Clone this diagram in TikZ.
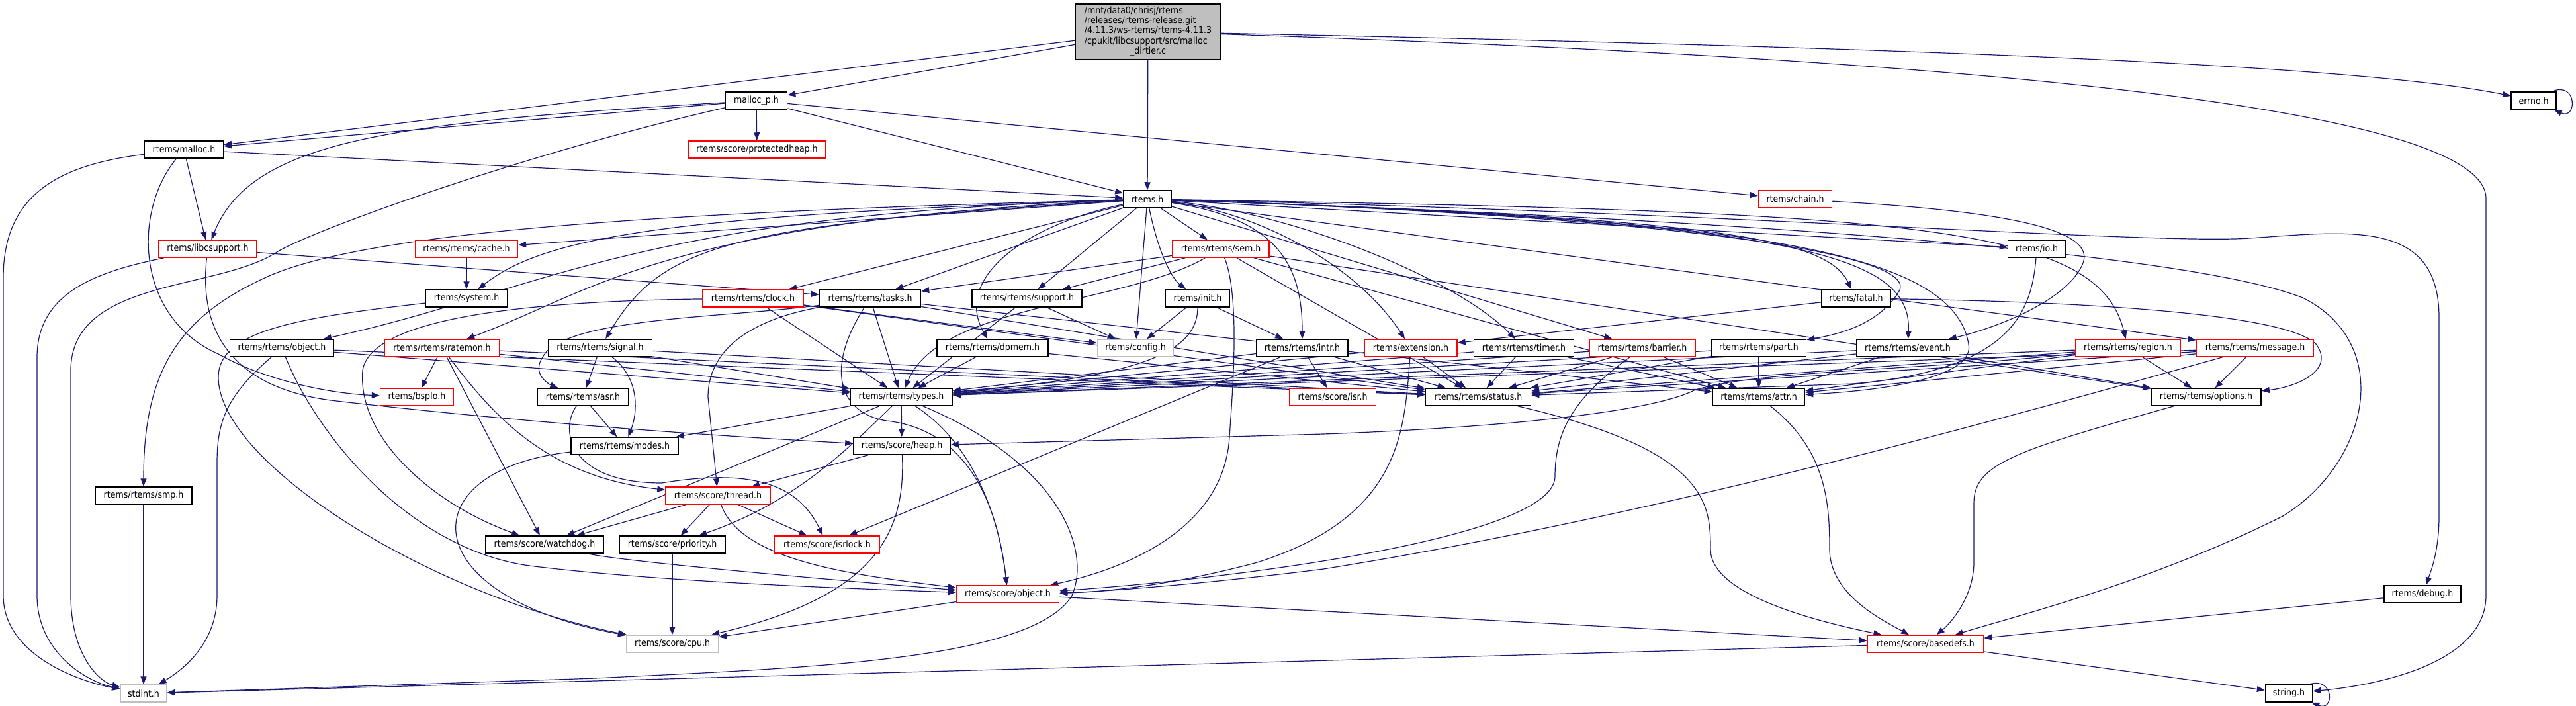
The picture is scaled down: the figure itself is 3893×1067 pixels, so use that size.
\documentclass[tikz,border=0pt]{standalone}
\usepackage{fontspec}
\setmainfont{DejaVu Sans Condensed}
\usetikzlibrary{arrows.meta}
\definecolor{edgeblue}{RGB}{25,25,112}
\definecolor{nodegrey}{RGB}{191,191,191}
\pgfdeclarelayer{bg}
\pgfsetlayers{bg,main}
\begin{document}
\begin{tikzpicture}[x=1pt,y=-1pt,
  fbox/.style={draw=black, line width=1.5pt, fill=white, minimum height=26pt, inner sep=0pt, text=black, font=\fontsize{14}{16}\selectfont},
  rbox/.style={fbox, draw=red},
  gbox/.style={fbox, draw=nodegrey},
  edge/.style={draw=edgeblue, line width=1.2pt, -{Triangle[length=12pt,width=9pt]}}]
\useasboundingbox (0,0) rectangle (3893,1067);
% nodes
\node[fbox, fill=nodegrey, minimum width=219pt, minimum height=84pt, font=\fontsize{14}{15}\selectfont] (main) at (1735,48)
 {\begin{tabular}{@{}l@{}}/mnt/data0/chrisj/rtems\\/releases/rtems-release.git\\/4.11.3/ws-rtems/rtems-4.11.3\\/cpukit/libcsupport/src/malloc\\\multicolumn{1}{@{}c@{}}{\_dirtier.c}\end{tabular}};
\node[fbox, minimum width=93pt] (mallocp) at (1143,152) {malloc\_p.h};
\node[rbox, minimum width=208pt] (prot) at (1144,226) {rtems/score/protectedheap.h};
\node[fbox, minimum width=72pt] (rtems) at (1734,301) {rtems.h};
\node[rbox, minimum width=111pt] (chain) at (2713,301) {rtems/chain.h};
\node[fbox, minimum width=68pt] (errno) at (3829,152) {errno.h};
\node[fbox, minimum width=119pt] (malloc) at (278,226) {rtems/malloc.h};
\node[rbox, minimum width=148pt] (libc) at (314,376) {rtems/libcsupport.h};
\node[rbox, minimum width=155pt] (cache) at (705,376) {rtems/rtems/cache.h};
\node[fbox, minimum width=124pt] (system) at (705,451) {rtems/system.h};
\node[fbox, minimum width=157pt] (robject) at (426,526) {rtems/rtems/object.h};
\node[rbox, minimum width=173pt] (ratemon) at (668,526) {rtems/rtems/ratemon.h};
\node[fbox, minimum width=157pt] (signal) at (907,526) {rtems/rtems/signal.h};
\node[rbox, minimum width=152pt] (clock) at (1138,451) {rtems/rtems/clock.h};
\node[fbox, minimum width=153pt] (tasks) at (1315,451) {rtems/rtems/tasks.h};
\node[fbox, minimum width=166pt] (support) at (1552,451) {rtems/rtems/support.h};
\node[fbox, minimum width=97pt] (init) at (1810,451) {rtems/init.h};
\node[rbox, minimum width=146pt] (sem) at (1845,376) {rtems/rtems/sem.h};
\node[fbox, minimum width=168pt] (dpmem) at (1500,526) {rtems/rtems/dpmem.h};
\node[gbox, minimum width=115pt] (config) at (1716,526) {rtems/config.h};
\node[fbox, minimum width=138pt] (intr) at (1968,526) {rtems/rtems/intr.h};
\node[rbox, minimum width=140pt] (ext) at (2132,526) {rtems/extension.h};
\node[fbox, minimum width=151pt] (timer) at (2303,526) {rtems/rtems/timer.h};
\node[rbox, minimum width=160pt] (barrier) at (2482,526) {rtems/rtems/barrier.h};
\node[fbox, minimum width=143pt] (part) at (2658,526) {rtems/rtems/part.h};
\node[fbox, minimum width=155pt] (event) at (2883,526) {rtems/rtems/event.h};
\node[fbox, minimum width=105pt] (fatal) at (2805,451) {rtems/fatal.h};
\node[fbox, minimum width=87pt] (io) at (3078,376) {rtems/io.h};
\node[rbox, minimum width=158pt] (region) at (3216,526) {rtems/rtems/region.h};
\node[rbox, minimum width=177pt] (message) at (3408,526) {rtems/rtems/message.h};
\node[rbox, minimum width=111pt] (bsplo) at (630,600) {rtems/bspIo.h};
\node[fbox, minimum width=138pt] (asr) at (881,600) {rtems/rtems/asr.h};
\node[fbox, minimum width=162pt] (modes) at (944,674) {rtems/rtems/modes.h};
\node[fbox, minimum width=146pt] (smp) at (217,749) {rtems/rtems/smp.h};
\node[gbox, minimum width=70pt] (stdint) at (217,1048) {stdint.h};
\node[fbox, minimum width=179pt] (watchdog) at (823,823) {rtems/score/watchdog.h};
\node[fbox, minimum width=160pt] (priority) at (1016,823) {rtems/score/priority.h};
\node[gbox, minimum width=139pt] (cpu) at (1016,973) {rtems/score/cpu.h};
\node[fbox, minimum width=154pt] (types) at (1362,600) {rtems/rtems/types.h};
\node[fbox, minimum width=146pt] (heap) at (1363,674) {rtems/score/heap.h};
\node[rbox, minimum width=158pt] (thread) at (1085,749) {rtems/score/thread.h};
\node[rbox, minimum width=159pt] (isrlock) at (1250,823) {rtems/score/isrlock.h};
\node[rbox, minimum width=155pt] (sobject) at (1523,898) {rtems/score/object.h};
\node[rbox, minimum width=131pt] (isr) at (2014,600) {rtems/score/isr.h};
\node[fbox, minimum width=159pt] (status) at (2234,600) {rtems/rtems/status.h};
\node[fbox, minimum width=139pt] (attr) at (2658,600) {rtems/rtems/attr.h};
\node[rbox, minimum width=175pt] (basedefs) at (2910,973) {rtems/score/basedefs.h};
\node[fbox, minimum width=166pt] (options) at (3334,600) {rtems/rtems/options.h};
\node[fbox, minimum width=116pt] (debug) at (3661,898) {rtems/debug.h};
\node[fbox, minimum width=71pt] (string) at (3459,1048) {string.h};
% edges
\begin{pgfonlayer}{bg}
\draw[edge] (main) -- (mallocp);
\draw[edge] (main) -- (rtems);
\draw[edge] (main) -- (malloc);
\draw[edge] (main) .. controls (2800,70) and (3550,95) .. (errno);
\draw[edge] (main) .. controls (2700,80) and (3757,140) .. (3757,300) -- (3757,900) .. controls (3757,1000) and (3600,1035) .. (string);
\draw[edge] ([xshift=-7pt]errno.north east) .. controls (3895,122) and (3895,182) .. ([xshift=-4pt]errno.south east);
\draw[edge] ([xshift=-6pt]string.north east) .. controls (3528,1022) and (3528,1076) .. ([xshift=-2pt]string.south east);
% malloc_p.h
\draw[edge] (mallocp) -- (malloc);
\draw[edge] (mallocp) .. controls (600,185) and (380,210) .. (libc);
\draw[edge] (mallocp) -- (prot);
\draw[edge] (mallocp) -- (rtems);
\draw[edge] (mallocp) -- (chain);
\draw[edge] (mallocp) .. controls (800,230) and (480,345) .. (420,380) .. controls (330,440) and (107,420) .. (107,560) -- (107,900) .. controls (107,990) and (150,1030) .. (stdint);
% malloc.h
\draw[edge] (malloc) -- (rtems);
\draw[edge] (malloc) -- (libc);
\draw[edge] (malloc) .. controls (80,250) and (5,300) .. (5,420) -- (5,900) .. controls (5,990) and (120,1030) .. (stdint);
\draw[edge] (malloc) .. controls (200,320) and (205,480) .. (330,535) .. controls (400,575) and (500,595) .. (bsplo);
% libcsupport.h
\draw[edge] (libc) -- (tasks);
\draw[edge] (libc) .. controls (150,410) and (56,440) .. (56,540) -- (56,900) .. controls (56,985) and (130,1030) .. (stdint);
\draw[edge] (libc) .. controls (300,500) and (350,585) .. (500,605) .. controls (800,640) and (1100,660) .. (heap);
% cache, system
\draw[edge] (cache) -- (system);
\draw[edge] (system) .. controls (450,480) and (330,500) .. (330,570) .. controls (330,700) and (650,900) .. (cpu);
% rtems.h
\draw[edge] (rtems) -- (cache);
\draw[edge] (rtems) .. controls (1000,325) and (820,360) .. (system);
\draw[edge] (rtems) .. controls (950,325) and (820,440) .. (robject);
\draw[edge] (rtems) .. controls (1000,335) and (900,440) .. (ratemon);
\draw[edge] (rtems) .. controls (1100,340) and (1000,370) .. (signal);
\draw[edge] (rtems) .. controls (1000,320) and (550,350) .. (400,420) .. controls (270,480) and (217,560) .. (smp);
\draw[edge] (rtems) -- (clock);
\draw[edge] (rtems) -- (tasks);
\draw[edge] (rtems) -- (support);
\draw[edge] (rtems) .. controls (1750,380) and (1770,420) .. (init);
\draw[edge] (rtems) -- (sem);
\draw[edge] (rtems) .. controls (1550,340) and (1440,420) .. (dpmem);
\draw[edge] (rtems) -- (config);
\draw[edge] (rtems) .. controls (1930,330) and (1968,400) .. (intr);
\draw[edge] (rtems) .. controls (1900,320) and (2050,400) .. (ext);
\draw[edge] (rtems) .. controls (1950,320) and (2200,420) .. (timer);
\draw[edge] (rtems) -- (barrier);
\draw[edge] (rtems) .. controls (2600,330) and (2900,390) .. (2870,440) .. controls (2840,490) and (2780,505) .. (part);
\draw[edge] (rtems) .. controls (2700,335) and (2890,380) .. (event);
\draw[edge] (rtems) .. controls (2600,330) and (2760,360) .. (fatal);
\draw[edge] (rtems) -- (io);
\draw[edge] (rtems) .. controls (2900,320) and (3170,340) .. (region);
\draw[edge] (rtems) -- (message);
\draw[edge] (rtems) .. controls (2600,320) and (3250,370) .. (3400,360) .. controls (3550,350) and (3686,330) .. (3686,480) -- (3686,780) .. controls (3686,830) and (3675,860) .. (debug);
\draw[edge] (rtems) .. controls (2600,330) and (3300,380) .. (3480,450) .. controls (3620,520) and (3580,700) .. (3450,780) .. controls (3250,880) and (3050,930) .. (basedefs);
\draw[edge] (rtems) .. controls (2600,330) and (2950,370) .. (2975,520) .. controls (2985,570) and (2850,590) .. (attr);
% chain.h
\draw[edge] (chain) .. controls (3050,320) and (3170,350) .. (3147,400) .. controls (3120,460) and (3000,500) .. (event);
% clock.h
\draw[edge] (clock) -- (types);
\draw[edge] (clock) -- (status);
\draw[edge] (clock) -- (config);
\draw[edge] (clock) .. controls (800,455) and (560,480) .. (548,560) .. controls (540,660) and (650,760) .. (watchdog);
% tasks.h
\draw[edge] (tasks) -- (types);
\draw[edge] (tasks) -- (status);
\draw[edge] (tasks) -- (attr);
\draw[edge] (tasks) .. controls (1100,480) and (850,480) .. (820,540) .. controls (800,570) and (840,585) .. (asr);
\draw[edge] (tasks) .. controls (1150,480) and (1070,520) .. (1070,600) -- (thread);
\draw[edge] (tasks) .. controls (1245,560) and (1270,625) .. (1340,636) .. controls (1420,645) and (1500,700) .. (sobject);
% support.h, init.h
\draw[edge] (support) -- (types);
\draw[edge] (support) -- (config);
\draw[edge] (init) -- (config);
\draw[edge] (init) -- (intr);
\draw[edge] (init) .. controls (1810,540) and (1700,570) .. (types);
% sem.h
\draw[edge] (sem) -- (tasks);
\draw[edge] (sem) -- (support);
\draw[edge] (sem) .. controls (1700,460) and (1420,460) .. (types);
\draw[edge] (sem) .. controls (1875,450) and (1862,600) .. (1858,660) .. controls (1850,800) and (1700,860) .. (sobject);
\draw[edge] (sem) -- (attr);
\draw[edge] (sem) -- (options);
\draw[edge] (sem) -- (status);
% dpmem.h, intr.h
\draw[edge] (dpmem) -- (types);
\draw[edge] (dpmem) -- (status);
\draw[edge] (intr) -- (isr);
\draw[edge] (intr) -- (status);
\draw[edge] (intr) -- (types);
\draw[edge] (intr) -- (isrlock);
% extension.h, timer.h, barrier.h, part.h, event.h
\draw[edge] (ext) -- (status);
\draw[edge] (ext) -- (types);
\draw[edge] (ext) .. controls (2122,650) and (2120,780) .. (1900,850) .. controls (1750,890) and (1650,895) .. (sobject);
\draw[edge] (timer) -- (status);
\draw[edge] (timer) -- (types);
\draw[edge] (timer) -- (attr);
\draw[edge] (barrier) -- (status);
\draw[edge] (barrier) -- (types);
\draw[edge] (barrier) -- (attr);
\draw[edge] (barrier) .. controls (2380,600) and (2350,650) .. (2350,720) .. controls (2350,820) and (1800,880) .. (sobject);
\draw[edge] (part) -- (attr);
\draw[edge] (part) -- (types);
\draw[edge] (part) -- (status);
\draw[edge] (event) -- (types);
\draw[edge] (event) -- (status);
\draw[edge] (event) -- (options);
\draw[edge] (event) -- (attr);
% fatal.h, io.h
\draw[edge] (fatal) -- (ext);
\draw[edge] (fatal) .. controls (3100,455) and (3450,470) .. (3500,520) .. controls (3530,560) and (3470,585) .. (options);
\draw[edge] (io) .. controls (3070,480) and (3030,560) .. (2800,580) -- (status);
% region.h, message.h
\draw[edge] (region) -- (types);
\draw[edge] (region) -- (status);
\draw[edge] (region) -- (attr);
\draw[edge] (region) -- (options);
\draw[edge] (region) .. controls (2900,560) and (2650,560) .. (2560,590) .. controls (2500,620) and (2300,645) .. (2000,656) -- (heap);
\draw[edge] (message) -- (types);
\draw[edge] (message) -- (status);
\draw[edge] (message) -- (attr);
\draw[edge] (message) -- (options);
\draw[edge] (message) .. controls (3000,640) and (2500,780) .. (2000,860) .. controls (1800,885) and (1650,895) .. (sobject);
% object.h (rtems)
\draw[edge] (robject) -- (types);
\draw[edge] (robject) -- (status);
\draw[edge] (robject) .. controls (340,600) and (328,640) .. (328,700) -- (328,900) .. controls (328,970) and (280,1010) .. (stdint);
\draw[edge] (robject) .. controls (480,660) and (620,830) .. (800,855) .. controls (1000,880) and (1300,890) .. (sobject);
% ratemon.h
\draw[edge] (ratemon) -- (bsplo);
\draw[edge] (ratemon) -- (watchdog);
\draw[edge] (ratemon) .. controls (740,620) and (820,720) .. (thread);
\draw[edge] (ratemon) -- (types);
\draw[edge] (ratemon) -- (status);
% signal.h, asr.h, modes.h, smp.h
\draw[edge] (signal) -- (asr);
\draw[edge] (signal) .. controls (965,570) and (965,620) .. (modes);
\draw[edge] (signal) -- (types);
\draw[edge] (signal) -- (status);
\draw[edge] (asr) -- (modes);
\draw[edge] (asr) .. controls (845,650) and (860,730) .. (1000,730) .. controls (1150,705) and (1210,740) .. (isrlock);
\draw[edge] (modes) .. controls (620,710) and (620,900) .. (cpu);
\draw[edge] (smp) -- (stdint);
% types.h
\draw[edge] (types) -- (modes);
\draw[edge] (types) -- (heap);
\draw[edge] (types) -- (watchdog);
\draw[edge] (types) .. controls (1280,680) and (1200,760) .. (priority);
\draw[edge] (types) .. controls (1470,670) and (1510,780) .. (sobject);
\draw[edge] (types) .. controls (1600,700) and (1650,830) .. (1620,900) .. controls (1560,1000) and (1200,1010) .. (900,1025) -- (stdint);
% heap.h, thread.h
\draw[edge] (heap) -- (thread);
\draw[edge] (heap) .. controls (1368,800) and (1330,900) .. (cpu);
\draw[edge] (thread) -- (watchdog);
\draw[edge] (thread) -- (priority);
\draw[edge] (thread) -- (isrlock);
\draw[edge] (thread) .. controls (1120,850) and (1300,870) .. (sobject);
% lower part
\draw[edge] (priority) -- (cpu);
\draw[edge] (watchdog) .. controls (950,850) and (1300,880) .. (sobject);
\draw[edge] (sobject) -- (cpu);
\draw[edge] (sobject) -- (basedefs);
\draw[edge] (status) .. controls (2580,680) and (2585,760) .. (2585,830) .. controls (2585,900) and (2750,940) .. (basedefs);
\draw[edge] (attr) .. controls (2760,680) and (2765,760) .. (2765,830) .. controls (2765,900) and (2850,940) .. (basedefs);
\draw[edge] (options) .. controls (3050,680) and (2983,700) .. (2983,760) -- (2983,850) .. controls (2983,900) and (2950,940) .. (basedefs);
\draw[edge] (debug) -- (basedefs);
\draw[edge] (basedefs) -- (stdint);
\draw[edge] (basedefs) -- (string);
\end{pgfonlayer}
\end{tikzpicture}
\end{document}
